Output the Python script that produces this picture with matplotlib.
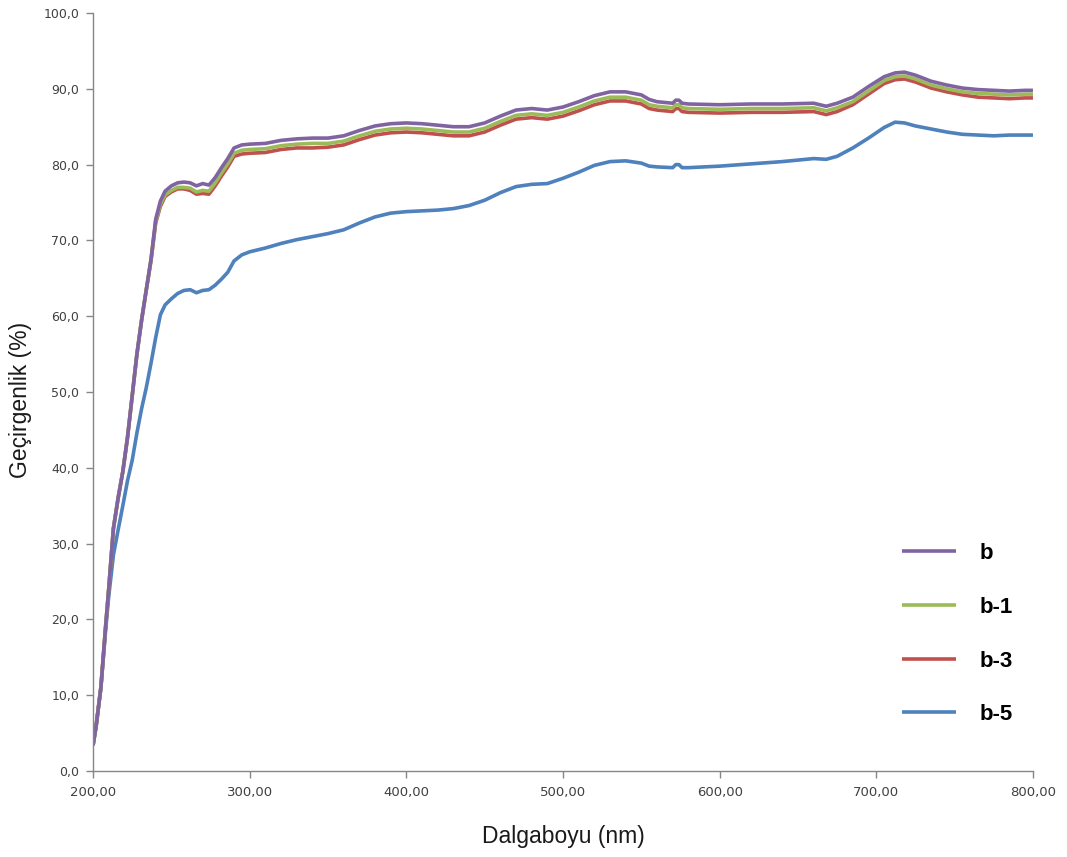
import matplotlib
matplotlib.use("Agg")
import matplotlib.pyplot as plt
from matplotlib.ticker import FixedLocator, FuncFormatter

# Wavelength grid (nm)
wavelength = [200, 202, 205, 208, 210, 213, 216, 219, 222, 225, 228, 231, 234, 237,
              240, 243, 246, 250, 254, 258, 262, 266, 270, 274, 278, 282, 286, 290,
              295, 300, 310, 320, 330, 340, 350, 360, 370, 380, 390, 400, 410, 420,
              430, 440, 450, 460, 470, 480, 490, 500, 510, 520, 530, 540, 550, 555,
              560, 570, 572, 574, 576, 580, 600, 620, 640, 660, 668, 675, 685, 695,
              705, 712, 718, 725, 735, 745, 755, 765, 775, 785, 795, 800]

# Transmittance (%) of each sample
trans_b = [3.4, 6.0, 11.0, 19.0, 24.0, 32.0, 36.0, 39.5, 44.0, 49.5, 55.0, 59.5, 63.5, 67.5,
           72.8, 75.2, 76.5, 77.2, 77.6, 77.7, 77.6, 77.2, 77.5, 77.3, 78.3, 79.6, 80.8, 82.2,
           82.6, 82.7, 82.8, 83.2, 83.4, 83.5, 83.5, 83.8, 84.5, 85.1, 85.4, 85.5, 85.4, 85.2,
           85.0, 85.0, 85.5, 86.4, 87.2, 87.4, 87.2, 87.6, 88.3, 89.1, 89.6, 89.6, 89.2, 88.6,
           88.3, 88.1, 88.5, 88.5, 88.1, 88.0, 87.9, 88.0, 88.0, 88.1, 87.7, 88.1, 88.9, 90.3,
           91.6, 92.1, 92.2, 91.8, 91.0, 90.5, 90.1, 89.9, 89.8, 89.7, 89.8, 89.8]

trans_b1 = [3.4, 6.0, 11.0, 19.0, 24.0, 32.0, 36.0, 39.5, 44.0, 49.5, 55.0, 59.5, 63.5, 67.5,
            72.5, 74.8, 76.0, 76.6, 77.0, 77.0, 76.9, 76.4, 76.6, 76.5, 77.6, 78.9, 80.1, 81.5,
            81.9, 82.0, 82.1, 82.5, 82.7, 82.8, 82.8, 83.1, 83.8, 84.4, 84.7, 84.8, 84.7, 84.5,
            84.3, 84.3, 84.8, 85.7, 86.5, 86.7, 86.5, 86.9, 87.6, 88.4, 88.9, 88.9, 88.5, 87.9,
            87.7, 87.5, 87.9, 87.9, 87.5, 87.4, 87.3, 87.4, 87.4, 87.5, 87.1, 87.5, 88.3, 89.7,
            91.1, 91.6, 91.7, 91.3, 90.5, 90.0, 89.6, 89.4, 89.3, 89.2, 89.3, 89.3]

trans_b3 = [3.4, 6.0, 11.0, 19.0, 24.0, 32.0, 36.0, 39.5, 44.0, 49.5, 55.0, 59.5, 63.5, 67.3,
            72.3, 74.5, 75.8, 76.4, 76.8, 76.8, 76.6, 76.1, 76.2, 76.1, 77.2, 78.5, 79.7, 81.1,
            81.4, 81.5, 81.6, 82.0, 82.2, 82.2, 82.3, 82.6, 83.3, 83.9, 84.2, 84.3, 84.2, 84.0,
            83.8, 83.8, 84.3, 85.2, 86.0, 86.2, 86.0, 86.4, 87.1, 87.9, 88.4, 88.4, 88.0, 87.4,
            87.2, 87.0, 87.4, 87.4, 87.0, 86.9, 86.8, 86.9, 86.9, 87.0, 86.6, 87.0, 87.9, 89.3,
            90.7, 91.2, 91.3, 90.9, 90.1, 89.6, 89.2, 88.9, 88.8, 88.7, 88.8, 88.8]

trans_b5 = [3.4, 6.0, 11.0, 18.5, 23.0, 28.5, 31.8, 35.0, 38.3, 41.0, 44.6, 47.8, 50.6, 53.8,
            57.2, 60.2, 61.5, 62.3, 63.0, 63.4, 63.5, 63.1, 63.4, 63.5, 64.1, 64.9, 65.8, 67.3,
            68.1, 68.5, 69.0, 69.6, 70.1, 70.5, 70.9, 71.4, 72.3, 73.1, 73.6, 73.8, 73.9, 74.0,
            74.2, 74.6, 75.3, 76.3, 77.1, 77.4, 77.5, 78.2, 79.0, 79.9, 80.4, 80.5, 80.2, 79.8,
            79.7, 79.6, 80.0, 80.0, 79.6, 79.6, 79.8, 80.1, 80.4, 80.8, 80.7, 81.1, 82.2, 83.5,
            84.9, 85.6, 85.5, 85.1, 84.7, 84.3, 84.0, 83.9, 83.8, 83.9, 83.9, 83.9]

series_names = ["b", "b-1", "b-3", "b-5"]
x_ticks = [200, 300, 400, 500, 600, 700, 800]
y_ticks = [0, 10, 20, 30, 40, 50, 60, 70, 80, 90, 100]

colors = {"b": "#8064A2", "b-1": "#9BBB59", "b-3": "#C0504D", "b-5": "#4F81BD"}
values = {"b": trans_b, "b-1": trans_b1, "b-3": trans_b3, "b-5": trans_b5}

fig = plt.figure(figsize=(10.67, 8.57), dpi=100)
ax = fig.add_axes([0.0872, 0.1003, 0.8809, 0.8845])

# Draw lowest series first so the top curve stays visible where they overlap
lines = {}
for name in reversed(series_names):
    (ln,) = ax.plot(wavelength, values[name], color=colors[name], lw=2.6,
                    solid_capstyle="butt", label=name)
    lines[name] = ln

ax.set_xlim(200, 800)
ax.set_ylim(0, 100)
ax.xaxis.set_major_locator(FixedLocator(x_ticks))
ax.yaxis.set_major_locator(FixedLocator(y_ticks))
ax.xaxis.set_major_formatter(FuncFormatter(lambda v, p: f"{v:.2f}".replace(".", ",")))
ax.yaxis.set_major_formatter(FuncFormatter(lambda v, p: f"{v:.1f}".replace(".", ",")))

for side in ("top", "right"):
    ax.spines[side].set_visible(False)
for side in ("left", "bottom"):
    ax.spines[side].set_color("#868686")
    ax.spines[side].set_linewidth(1.0)

ax.tick_params(axis="both", direction="out", length=5, width=1.0, color="#868686",
               labelcolor="#404040")
ax.tick_params(axis="x", pad=6, labelsize=9.5)
ax.tick_params(axis="y", pad=5, labelsize=9)

ax.set_xlabel("Dalgaboyu (nm)", fontsize=16.5, family="Liberation Sans", color="#1a1a1a")
ax.set_ylabel("Geçirgenlik (%)", fontsize=16.5, family="Liberation Sans", color="#1a1a1a")
ax.xaxis.set_label_coords(0.5, -0.071)
ax.yaxis.set_label_coords(-0.065, 0.49)

handles = [lines[n] for n in series_names]
leg = ax.legend(handles, series_names, loc="upper left",
                bbox_to_anchor=(0.8606, 0.3005), frameon=False,
                borderpad=0, borderaxespad=0,
                handlelength=2.43, handletextpad=1.08, labelspacing=1.47,
                prop={"family": "Liberation Sans", "weight": "bold", "size": 16})

fig.savefig("out.png", dpi=100, facecolor="white")
